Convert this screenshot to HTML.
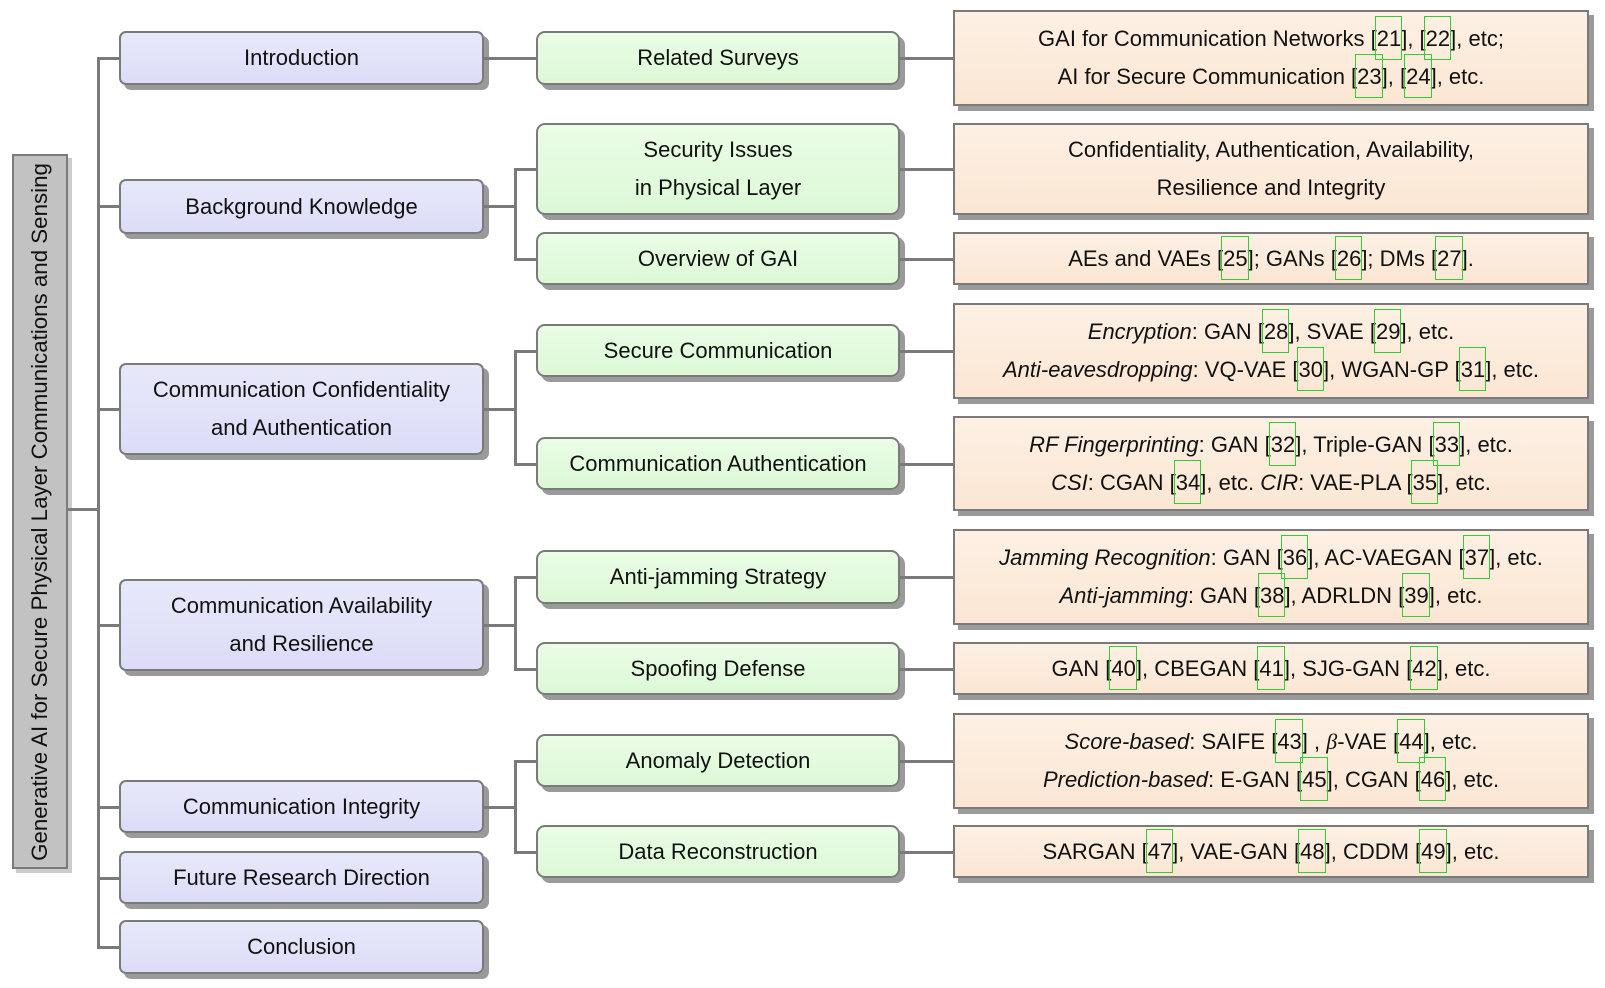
<!DOCTYPE html>
<html><head><meta charset="utf-8"><style>
body{margin:0;width:1605px;height:988px;background:#fff;position:relative;overflow:hidden;font-family:"Liberation Sans",sans-serif;color:#111}
.b{position:absolute;box-sizing:border-box;border:2.5px solid #7a7a7a;display:flex;flex-direction:column;align-items:center;justify-content:center;text-align:center;font-size:22px;line-height:38px;box-shadow:5px 5px 0 #9a9a9a;white-space:nowrap}
.l1{left:119px;width:365px;border-radius:7px;background:linear-gradient(#e8e8fb,#dcdcf7)}
.l2{left:536px;width:364px;border-radius:9px;background:linear-gradient(#eafde6,#dcf8d6)}
.l3{left:953px;width:636px;background:linear-gradient(#fdf0e4,#fbe6d3)}
.ln{position:absolute;background:#7a7a7a}
.c{position:relative}
.c::after{content:"";position:absolute;left:-2px;right:-1px;top:-10px;bottom:-9px;border:1.3px solid #3c3}
i{font-style:italic}
</style></head><body>
<div class="b" style="left:12px;top:154px;width:56px;height:715px;background:#c2c2c2;border-radius:0;box-shadow:4px 4px 0 #ccc"><div style="transform:rotate(-90deg);white-space:nowrap;font-size:22.3px">Generative AI for Secure Physical Layer Communications and Sensing</div></div>
<div class="ln" style="left:68px;top:508px;width:31px;height:2.5px"></div>
<div class="ln" style="left:97px;top:57px;width:2.5px;height:891px"></div>
<div class="ln" style="left:97px;top:57px;width:22px;height:2.5px"></div>
<div class="ln" style="left:97px;top:205px;width:22px;height:2.5px"></div>
<div class="ln" style="left:97px;top:408px;width:22px;height:2.5px"></div>
<div class="ln" style="left:97px;top:624px;width:22px;height:2.5px"></div>
<div class="ln" style="left:97px;top:806px;width:22px;height:2.5px"></div>
<div class="ln" style="left:97px;top:877px;width:22px;height:2.5px"></div>
<div class="ln" style="left:97px;top:946px;width:22px;height:2.5px"></div>
<div class="b l1" style="top:31px;height:54px">Introduction</div>
<div class="b l1" style="top:179px;height:55px">Background Knowledge</div>
<div class="b l1" style="top:363px;height:92px">Communication Confidentiality<br>and Authentication</div>
<div class="b l1" style="top:579px;height:92px">Communication Availability<br>and Resilience</div>
<div class="b l1" style="top:780px;height:53px">Communication Integrity</div>
<div class="b l1" style="top:851px;height:53px">Future Research Direction</div>
<div class="b l1" style="top:920px;height:54px">Conclusion</div>
<div class="ln" style="left:484px;top:57px;width:52px;height:2.5px"></div>
<div class="ln" style="left:484px;top:205px;width:31px;height:2.5px"></div>
<div class="ln" style="left:514px;top:168px;width:2.5px;height:91px"></div>
<div class="ln" style="left:514px;top:168px;width:22px;height:2.5px"></div>
<div class="ln" style="left:514px;top:258px;width:22px;height:2.5px"></div>
<div class="ln" style="left:484px;top:408px;width:31px;height:2.5px"></div>
<div class="ln" style="left:514px;top:350px;width:2.5px;height:114px"></div>
<div class="ln" style="left:514px;top:350px;width:22px;height:2.5px"></div>
<div class="ln" style="left:514px;top:463px;width:22px;height:2.5px"></div>
<div class="ln" style="left:484px;top:624px;width:31px;height:2.5px"></div>
<div class="ln" style="left:514px;top:576px;width:2.5px;height:93px"></div>
<div class="ln" style="left:514px;top:576px;width:22px;height:2.5px"></div>
<div class="ln" style="left:514px;top:668px;width:22px;height:2.5px"></div>
<div class="ln" style="left:484px;top:806px;width:31px;height:2.5px"></div>
<div class="ln" style="left:514px;top:760px;width:2.5px;height:92px"></div>
<div class="ln" style="left:514px;top:760px;width:22px;height:2.5px"></div>
<div class="ln" style="left:514px;top:851px;width:22px;height:2.5px"></div>
<div class="b l2" style="top:31px;height:54px">Related Surveys</div>
<div class="b l2" style="top:123px;height:92px">Security Issues<br>in Physical Layer</div>
<div class="b l2" style="top:232px;height:53px">Overview of GAI</div>
<div class="b l2" style="top:324px;height:53px">Secure Communication</div>
<div class="b l2" style="top:437px;height:53px">Communication Authentication</div>
<div class="b l2" style="top:550px;height:54px">Anti-jamming Strategy</div>
<div class="b l2" style="top:642px;height:53px">Spoofing Defense</div>
<div class="b l2" style="top:734px;height:53px">Anomaly Detection</div>
<div class="b l2" style="top:825px;height:53px">Data Reconstruction</div>
<div class="ln" style="left:900px;top:57px;width:53px;height:2.5px"></div>
<div class="ln" style="left:900px;top:168px;width:53px;height:2.5px"></div>
<div class="ln" style="left:900px;top:258px;width:53px;height:2.5px"></div>
<div class="ln" style="left:900px;top:350px;width:53px;height:2.5px"></div>
<div class="ln" style="left:900px;top:463px;width:53px;height:2.5px"></div>
<div class="ln" style="left:900px;top:576px;width:53px;height:2.5px"></div>
<div class="ln" style="left:900px;top:668px;width:53px;height:2.5px"></div>
<div class="ln" style="left:900px;top:760px;width:53px;height:2.5px"></div>
<div class="ln" style="left:900px;top:851px;width:53px;height:2.5px"></div>
<div class="b l3" style="top:10px;height:96px"><div>GAI for Communication Networks [<span class="c">21</span>], [<span class="c">22</span>], etc;</div><div>AI for Secure Communication [<span class="c">23</span>], [<span class="c">24</span>], etc.</div></div>
<div class="b l3" style="top:123px;height:92px"><div>Confidentiality, Authentication, Availability,</div><div>Resilience and Integrity</div></div>
<div class="b l3" style="top:232px;height:53px"><div>AEs and VAEs [<span class="c">25</span>]; GANs [<span class="c">26</span>]; DMs [<span class="c">27</span>].</div></div>
<div class="b l3" style="top:303px;height:96px"><div><i>Encryption</i>: GAN [<span class="c">28</span>], SVAE [<span class="c">29</span>], etc.</div><div><i>Anti-eavesdropping</i>: VQ-VAE [<span class="c">30</span>], WGAN-GP [<span class="c">31</span>], etc.</div></div>
<div class="b l3" style="top:416px;height:95px"><div><i>RF Fingerprinting</i>: GAN [<span class="c">32</span>], Triple-GAN [<span class="c">33</span>], etc.</div><div><i>CSI</i>: CGAN [<span class="c">34</span>], etc. <i>CIR</i>: VAE-PLA [<span class="c">35</span>], etc.</div></div>
<div class="b l3" style="top:529px;height:96px"><div><i>Jamming Recognition</i>: GAN [<span class="c">36</span>], AC-VAEGAN [<span class="c">37</span>], etc.</div><div><i>Anti-jamming</i>: GAN [<span class="c">38</span>], ADRLDN [<span class="c">39</span>], etc.</div></div>
<div class="b l3" style="top:642px;height:53px"><div>GAN [<span class="c">40</span>], CBEGAN [<span class="c">41</span>], SJG-GAN [<span class="c">42</span>], etc.</div></div>
<div class="b l3" style="top:713px;height:96px"><div><i>Score-based</i>: SAIFE [<span class="c">43</span>] , <i style="font-family:'Liberation Serif',serif">β</i>-VAE [<span class="c">44</span>], etc.</div><div><i>Prediction-based</i>: E-GAN [<span class="c">45</span>], CGAN [<span class="c">46</span>], etc.</div></div>
<div class="b l3" style="top:825px;height:53px"><div>SARGAN [<span class="c">47</span>], VAE-GAN [<span class="c">48</span>], CDDM [<span class="c">49</span>], etc.</div></div>
</body></html>
